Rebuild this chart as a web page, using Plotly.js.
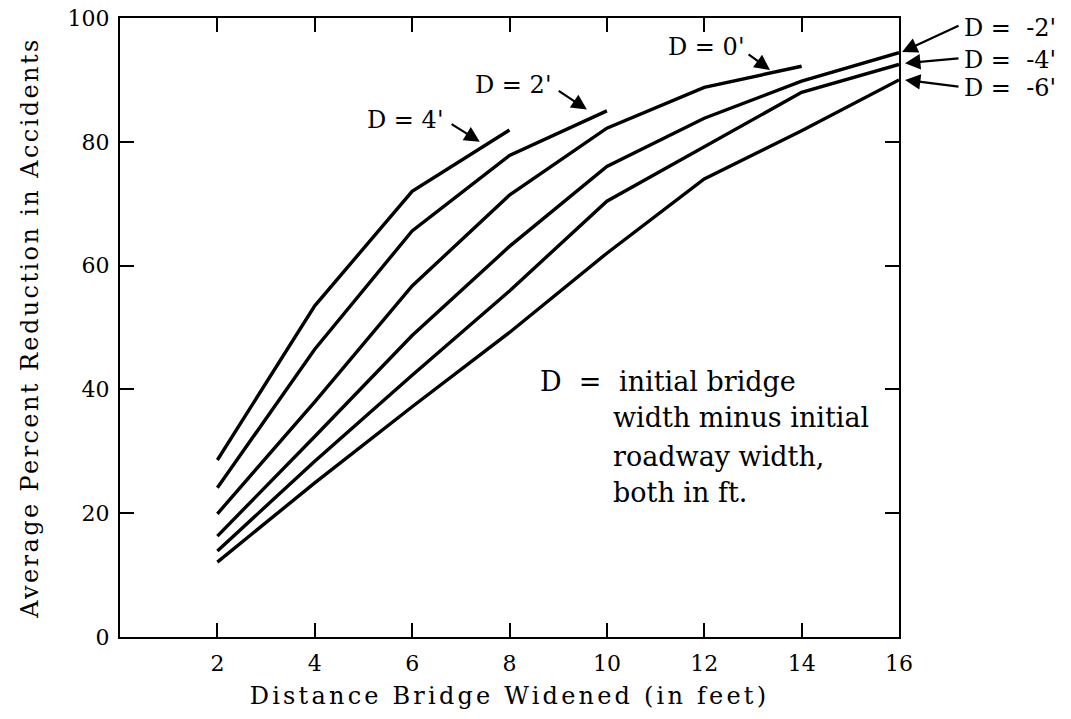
<!DOCTYPE html>
<html>
<head>
<meta charset="utf-8">
<script src="https://cdn.plot.ly/plotly-3.0.1.min.js"></script>
<style>
html,body{margin:0;padding:0;background:#fff;}
#chart{width:1071px;height:719px;}
text.xtitle { letter-spacing: 3.2px; }
text.ytitle { letter-spacing: 2.4px; }
</style>
</head>
<body>
<div id="chart"></div>
<script>
// Distance bridge widened (ft)
const widened = [2, 4, 6, 8, 10, 12, 14, 16];
// Average percent reduction in accidents for each D
const dPlus4  = [28.6, 53.5, 72.0, 81.9];
const dPlus2  = [24.1, 46.5, 65.6, 77.8, 85.0];
const dZero   = [19.9, 38.0, 56.7, 71.4, 82.2, 88.8, 92.2];
const dMinus2 = [16.3, 32.4, 48.7, 63.1, 76.0, 83.8, 89.8, 94.4];
const dMinus4 = [13.9, 28.4, 42.3, 55.9, 70.4, 79.2, 88.0, 92.5];
const dMinus6 = [12.1, 24.9, 37.2, 49.2, 62.0, 74.0, 81.8, 90.0];
const seriesNames = ["D = 4'", "D = 2'", "D = 0'", "D = -2'", "D = -4'", "D = -6'"];
const xTicks = [2, 4, 6, 8, 10, 12, 14, 16];
const yTicks = [0, 20, 40, 60, 80, 100];

const allSeries = [dPlus4, dPlus2, dZero, dMinus2, dMinus4, dMinus6];
const FONT = "DejaVu Serif, Liberation Serif, serif";

const traces = allSeries.map((vals, i) => ({
  type: 'scatter',
  mode: 'lines',
  name: seriesNames[i],
  x: widened.slice(0, vals.length),
  y: vals,
  line: {color: '#000', width: 3.4, shape: 'linear'},
  hoverinfo: 'x+y+name'
}));

const curveFont = {family: FONT, size: 24, color: '#000'};
const descFont = {family: FONT, size: 27, color: '#000'};
function label(text, x, y, xanchor, font, ref) {
  return {text: text, x: x, y: y, xref: ref || 'x', yref: ref || 'y', showarrow: false,
          xanchor: xanchor || 'center', yanchor: 'middle', font: font || curveFont};
}
function arrow(tx, ty, hx, hy) {
  return {text: '', x: hx, y: hy, ax: tx, ay: ty, xref: 'x', yref: 'y',
          axref: 'x', ayref: 'y', showarrow: true, arrowhead: 2,
          arrowsize: 1.4, arrowwidth: 2.2, arrowcolor: '#000', standoff: 0, startstandoff: 0};
}
function paperArrow(hx, hy, dx, dy) {
  return {text: '', x: hx, y: hy, ax: dx, ay: dy, xref: 'paper', yref: 'paper',
          showarrow: true, arrowhead: 2, arrowsize: 1.4, arrowwidth: 2.2,
          arrowcolor: '#000', standoff: 0, startstandoff: 0};
}

const annotations = [
  label("D = 4'", 5.85, 83.5),
  arrow(6.78, 83.0, 7.39, 80.0),
  label("D = 2'", 8.07, 89.2),
  arrow(8.98, 88.4, 9.59, 85.2),
  label("D = 0'", 12.04, 95.3),
  arrow(12.88, 94.3, 13.35, 91.6),
  label("D =  -2'", 1.081, 0.984, 'left', curveFont, 'paper'),
  paperArrow(1.0039, 0.945, 58, -27),
  label("D =  -4'", 1.081, 0.932, 'left', curveFont, 'paper'),
  paperArrow(1.0077, 0.927, 55, -5),
  label("D =  -6'", 1.081, 0.887, 'left', curveFont, 'paper'),
  paperArrow(1.0077, 0.900, 55, 7),
  label("D  =", 8.58, 41.2, 'left', descFont),
  label("initial bridge", 10.2, 41.2, 'left', descFont),
  label("width minus initial", 10.08, 35.4, 'left', descFont),
  label("roadway width,", 10.08, 29.1, 'left', descFont),
  label("both in ft.", 10.08, 23.3, 'left', descFont)
];

const axisCommon = {
  showline: true, linecolor: '#000', linewidth: 2, mirror: 'ticks',
  ticks: 'inside', ticklen: 14, tickwidth: 2, tickcolor: '#000',
  showgrid: false, zeroline: false,
  tickfont: {family: FONT, size: 22, color: '#000'}
};

const layout = {
  width: 1071, height: 719,
  margin: {l: 120, r: 172, t: 18, b: 82},
  paper_bgcolor: '#fff', plot_bgcolor: '#fff',
  showlegend: false,
  font: {family: FONT, color: '#000'},
  xaxis: Object.assign({}, axisCommon, {
    range: [0, 16], tickvals: xTicks, ticktext: xTicks.map(String),
    ticklabelstandoff: 6,
    title: {text: 'Distance Bridge Widened (in feet)', font: {family: FONT, size: 24, color: '#000'}, standoff: 12}
  }),
  yaxis: Object.assign({}, axisCommon, {
    range: [0, 100], tickvals: yTicks, ticktext: yTicks.map(String),
    ticklabelstandoff: 4,
    title: {text: 'Average Percent Reduction in Accidents', font: {family: FONT, size: 24, color: '#000'}, standoff: 22}
  }),
  annotations: annotations
};

Plotly.newPlot('chart', traces, layout, {displayModeBar: false, staticPlot: true});
</script>
</body>
</html>
